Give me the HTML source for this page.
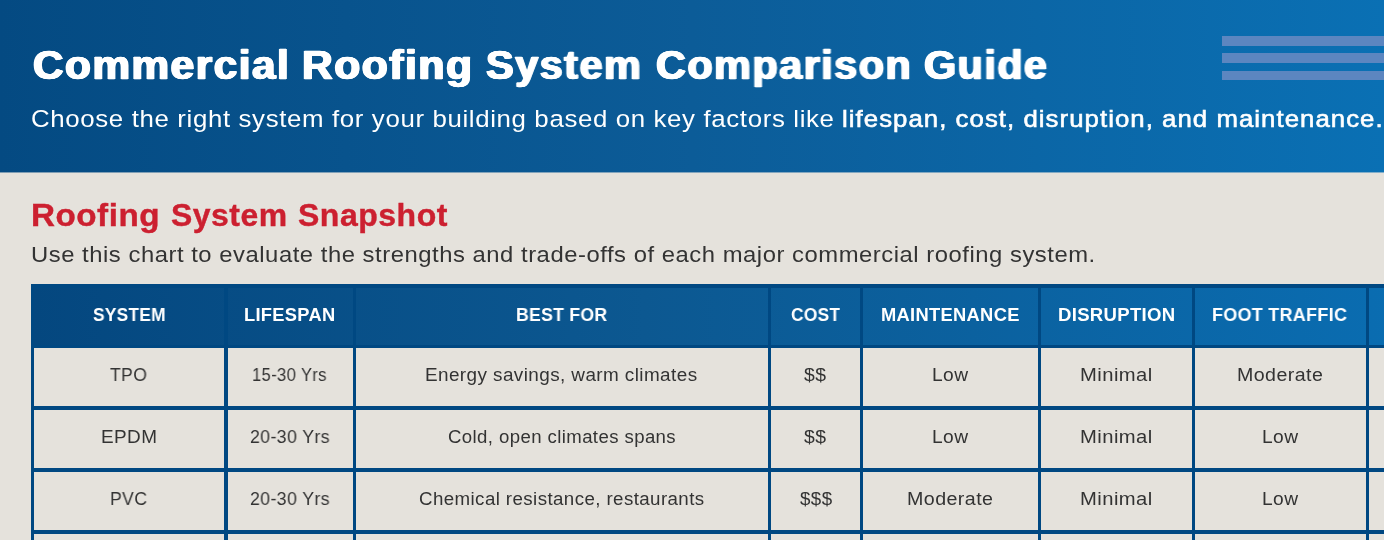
<!DOCTYPE html>
<html><head><meta charset="utf-8"><style>
html,body{margin:0;padding:0;}
body{width:1384px;height:540px;overflow:hidden;position:relative;background:#e5e2dc;font-family:"Liberation Sans",sans-serif;}
.hdr{position:absolute;left:0;top:0;width:1384px;height:172px;background:linear-gradient(90deg,#044a82 0%,#0c5c98 50%,#0a70b4 100%);}
.hdr .ln{position:absolute;left:1222px;width:170px;height:10px;background:#5c86c0;}
.th{position:absolute;left:31px;top:284px;width:1360px;height:64px;background:linear-gradient(90deg,rgb(4,71,127) 0px,rgb(12,88,145) 614px,rgb(10,108,176) 1341px,rgb(10,109,177) 1360px);}
.b{position:absolute;background:#004882;}
.t{position:absolute;white-space:nowrap;line-height:normal;transform-origin:0 0;will-change:transform;}
</style></head><body>
<div class="hdr"><div class="ln" style="top:36px"></div><div class="ln" style="top:53px"></div><div class="ln" style="top:71px;height:9px"></div></div>
<div style="position:absolute;left:0;top:172px;width:1384px;height:1px;background:linear-gradient(90deg,#044a82 0%,#0c5c98 50%,#0a70b4 100%);opacity:0.45"></div>
<div class="th"></div>
<div class="b" style="left:31px;top:284px;width:3px;height:260px"></div>
<div class="b" style="left:224px;top:284px;width:4px;height:260px"></div>
<div class="b" style="left:353px;top:284px;width:3px;height:260px"></div>
<div class="b" style="left:768px;top:284px;width:3px;height:260px"></div>
<div class="b" style="left:860px;top:284px;width:3px;height:260px"></div>
<div class="b" style="left:1038px;top:284px;width:3px;height:260px"></div>
<div class="b" style="left:1192px;top:284px;width:3px;height:260px"></div>
<div class="b" style="left:1366px;top:284px;width:3px;height:260px"></div>
<div class="b" style="left:31px;top:406px;width:1360px;height:4px"></div>
<div class="b" style="left:31px;top:468px;width:1360px;height:4px"></div>
<div class="b" style="left:31px;top:530px;width:1360px;height:4px"></div>
<div class="b" style="left:31px;top:284px;width:1360px;height:4px"></div>
<div class="b" style="left:31px;top:345px;width:1360px;height:3px"></div>
<div class="t" style="left:32.55px;top:40.84px;font-size:41.5px;font-weight:bold;letter-spacing:1.5px;color:#ffffff;transform:scaleX(1.0186);-webkit-text-stroke:0.5px #fff;text-shadow:1px 0 0 #fff,-1px 0 0 #fff,0.5px 0 0 #fff,-0.5px 0 0 #fff;">Commercial</div>
<div class="t" style="left:301.93px;top:40.84px;font-size:41.5px;font-weight:bold;letter-spacing:1.5px;color:#ffffff;transform:scaleX(1.0252);-webkit-text-stroke:0.5px #fff;text-shadow:1px 0 0 #fff,-1px 0 0 #fff,0.5px 0 0 #fff,-0.5px 0 0 #fff;">Roofing</div>
<div class="t" style="left:485.95px;top:40.84px;font-size:41.5px;font-weight:bold;letter-spacing:1.5px;color:#ffffff;transform:scaleX(0.9978);-webkit-text-stroke:0.5px #fff;text-shadow:1px 0 0 #fff,-1px 0 0 #fff,0.5px 0 0 #fff,-0.5px 0 0 #fff;">System</div>
<div class="t" style="left:655.55px;top:40.84px;font-size:41.5px;font-weight:bold;letter-spacing:1.5px;color:#ffffff;transform:scaleX(0.9966);-webkit-text-stroke:0.5px #fff;text-shadow:1px 0 0 #fff,-1px 0 0 #fff,0.5px 0 0 #fff,-0.5px 0 0 #fff;">Comparison</div>
<div class="t" style="left:924.25px;top:40.84px;font-size:41.5px;font-weight:bold;letter-spacing:1.5px;color:#ffffff;transform:scaleX(0.9943);-webkit-text-stroke:0.5px #fff;text-shadow:1px 0 0 #fff,-1px 0 0 #fff,0.5px 0 0 #fff,-0.5px 0 0 #fff;">Guide</div>
<div class="t" style="left:31.45px;top:104.83px;font-size:24.5px;font-weight:normal;letter-spacing:0.6px;color:#ffffff;transform:scaleX(1.0546);">Choose the right system for your building based on key factors like</div>
<div class="t" style="left:841.96px;top:104.83px;font-size:24.5px;font-weight:normal;letter-spacing:1.0px;color:#ffffff;transform:scaleX(1.0513);-webkit-text-stroke:0.6px #fff;">lifespan, cost, disruption, and maintenance.</div>
<div class="t" style="left:31.40px;top:197.49px;font-size:31.5px;font-weight:bold;letter-spacing:0.5px;color:#cc2030;transform:scaleX(1.0536);-webkit-text-stroke:0.4px #cc2030;">Roofing</div>
<div class="t" style="left:170.80px;top:197.49px;font-size:31.5px;font-weight:bold;letter-spacing:0.5px;color:#cc2030;transform:scaleX(1.0127);-webkit-text-stroke:0.4px #cc2030;">System</div>
<div class="t" style="left:297.70px;top:197.49px;font-size:31.5px;font-weight:bold;letter-spacing:0.5px;color:#cc2030;transform:scaleX(1.0161);-webkit-text-stroke:0.4px #cc2030;">Snapshot</div>
<div class="t" style="left:30.94px;top:242.24px;font-size:22.5px;font-weight:normal;letter-spacing:0.5px;color:#333333;transform:scaleX(1.0589);">Use this chart to evaluate the strengths and trade-offs of each major commercial roofing system.</div>
<div class="t" style="left:93.00px;top:304.34px;font-size:18.3px;font-weight:bold;letter-spacing:0.3px;color:#ffffff;transform:scaleX(0.9451);">SYSTEM</div>
<div class="t" style="left:244.30px;top:304.34px;font-size:18.3px;font-weight:bold;letter-spacing:0.3px;color:#ffffff;transform:scaleX(0.9996);">LIFESPAN</div>
<div class="t" style="left:515.94px;top:304.34px;font-size:18.3px;font-weight:bold;letter-spacing:0.3px;color:#ffffff;transform:scaleX(0.9644);">BEST FOR</div>
<div class="t" style="left:790.90px;top:304.34px;font-size:18.3px;font-weight:bold;letter-spacing:0.3px;color:#ffffff;transform:scaleX(0.9492);">COST</div>
<div class="t" style="left:880.50px;top:304.34px;font-size:18.3px;font-weight:bold;letter-spacing:0.3px;color:#ffffff;transform:scaleX(1.0023);">MAINTENANCE</div>
<div class="t" style="left:1057.59px;top:304.34px;font-size:18.3px;font-weight:bold;letter-spacing:0.3px;color:#ffffff;transform:scaleX(1.0147);">DISRUPTION</div>
<div class="t" style="left:1212.32px;top:304.34px;font-size:18.3px;font-weight:bold;letter-spacing:0.3px;color:#ffffff;transform:scaleX(0.9821);">FOOT TRAFFIC</div>
<div class="t" style="left:110.40px;top:364.34px;font-size:18.3px;font-weight:normal;letter-spacing:0.4px;color:#333333;transform:scaleX(0.9591);">TPO</div>
<div class="t" style="left:252.09px;top:364.34px;font-size:18.3px;font-weight:normal;letter-spacing:0.4px;color:#333333;transform:scaleX(0.9063);">15-30 Yrs</div>
<div class="t" style="left:425.47px;top:364.34px;font-size:18.3px;font-weight:normal;letter-spacing:0.4px;color:#333333;transform:scaleX(1.0339);">Energy savings, warm climates</div>
<div class="t" style="left:804.00px;top:364.34px;font-size:18.3px;font-weight:normal;letter-spacing:0.4px;color:#333333;transform:scaleX(1.0599);">$$</div>
<div class="t" style="left:931.75px;top:364.34px;font-size:18.3px;font-weight:normal;letter-spacing:0.4px;color:#333333;transform:scaleX(1.0488);">Low</div>
<div class="t" style="left:1079.89px;top:364.34px;font-size:18.3px;font-weight:normal;letter-spacing:0.4px;color:#333333;transform:scaleX(1.1056);">Minimal</div>
<div class="t" style="left:1236.93px;top:364.34px;font-size:18.3px;font-weight:normal;letter-spacing:0.4px;color:#333333;transform:scaleX(1.0727);">Moderate</div>
<div class="t" style="left:101.37px;top:426.34px;font-size:18.3px;font-weight:normal;letter-spacing:0.4px;color:#333333;transform:scaleX(1.0350);">EPDM</div>
<div class="t" style="left:250.30px;top:426.34px;font-size:18.3px;font-weight:normal;letter-spacing:0.4px;color:#333333;transform:scaleX(0.9682);">20-30 Yrs</div>
<div class="t" style="left:447.90px;top:426.34px;font-size:18.3px;font-weight:normal;letter-spacing:0.4px;color:#333333;transform:scaleX(1.0162);">Cold, open climates spans</div>
<div class="t" style="left:804.00px;top:426.34px;font-size:18.3px;font-weight:normal;letter-spacing:0.4px;color:#333333;transform:scaleX(1.0599);">$$</div>
<div class="t" style="left:931.75px;top:426.34px;font-size:18.3px;font-weight:normal;letter-spacing:0.4px;color:#333333;transform:scaleX(1.0488);">Low</div>
<div class="t" style="left:1079.89px;top:426.34px;font-size:18.3px;font-weight:normal;letter-spacing:0.4px;color:#333333;transform:scaleX(1.1056);">Minimal</div>
<div class="t" style="left:1261.75px;top:426.34px;font-size:18.3px;font-weight:normal;letter-spacing:0.4px;color:#333333;transform:scaleX(1.0488);">Low</div>
<div class="t" style="left:110.34px;top:488.34px;font-size:18.3px;font-weight:normal;letter-spacing:0.4px;color:#333333;transform:scaleX(0.9627);">PVC</div>
<div class="t" style="left:250.30px;top:488.34px;font-size:18.3px;font-weight:normal;letter-spacing:0.4px;color:#333333;transform:scaleX(0.9682);">20-30 Yrs</div>
<div class="t" style="left:419.40px;top:488.34px;font-size:18.3px;font-weight:normal;letter-spacing:0.4px;color:#333333;transform:scaleX(1.0235);">Chemical resistance, restaurants</div>
<div class="t" style="left:799.60px;top:488.34px;font-size:18.3px;font-weight:normal;letter-spacing:0.4px;color:#333333;transform:scaleX(1.0246);">$$$</div>
<div class="t" style="left:906.83px;top:488.34px;font-size:18.3px;font-weight:normal;letter-spacing:0.4px;color:#333333;transform:scaleX(1.0740);">Moderate</div>
<div class="t" style="left:1079.89px;top:488.34px;font-size:18.3px;font-weight:normal;letter-spacing:0.4px;color:#333333;transform:scaleX(1.1056);">Minimal</div>
<div class="t" style="left:1261.75px;top:488.34px;font-size:18.3px;font-weight:normal;letter-spacing:0.4px;color:#333333;transform:scaleX(1.0488);">Low</div>
</body></html>
